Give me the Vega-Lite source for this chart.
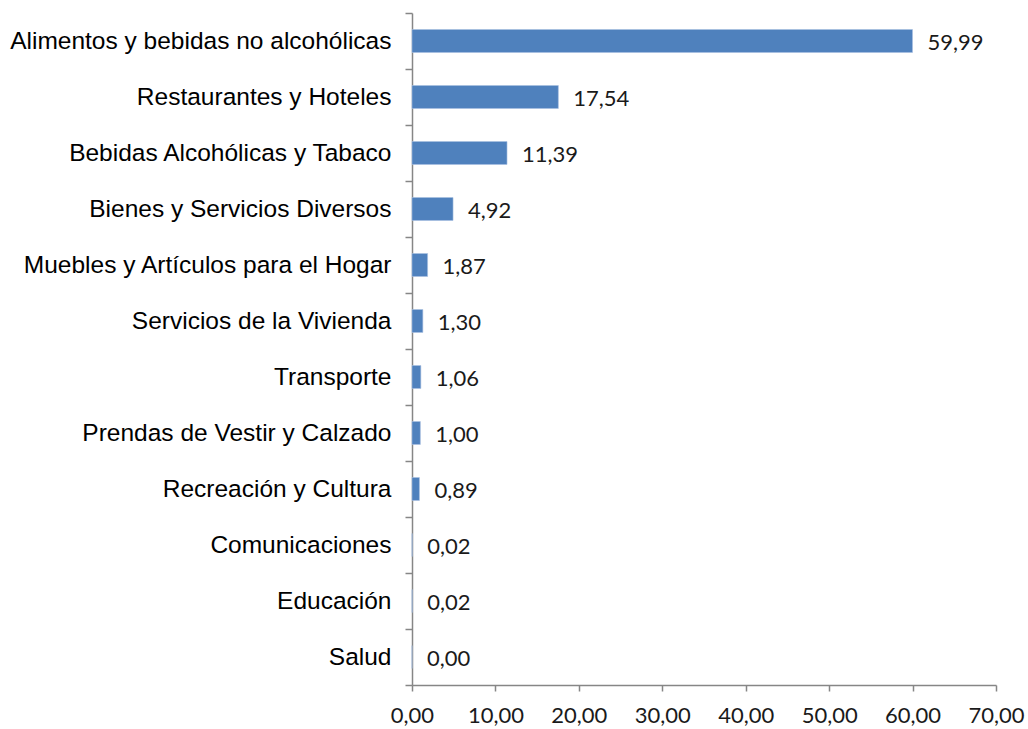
{
  "$schema": "https://vega.github.io/schema/vega-lite/v6.json",
  "width": 584,
  "height": 672,
  "autosize": {"type": "none"},
  "padding": {"left": 412, "top": 13, "right": 32, "bottom": 44},
  "background": "white",
  "data": {"values": [
    {"cat": "Alimentos y bebidas no alcohólicas", "v": 59.99},
    {"cat": "Restaurantes y Hoteles", "v": 17.54},
    {"cat": "Bebidas Alcohólicas y Tabaco", "v": 11.39},
    {"cat": "Bienes y Servicios Diversos", "v": 4.92},
    {"cat": "Muebles y Artículos para el Hogar", "v": 1.87},
    {"cat": "Servicios de la Vivienda", "v": 1.30},
    {"cat": "Transporte", "v": 1.06},
    {"cat": "Prendas de Vestir y Calzado", "v": 1.00},
    {"cat": "Recreación y Cultura", "v": 0.89},
    {"cat": "Comunicaciones", "v": 0.02},
    {"cat": "Educación", "v": 0.02},
    {"cat": "Salud", "v": 0.00}
  ]},
  "transform": [
    {"calculate": "replace(format(datum.v, '.2f'), '.', ',')", "as": "label"}
  ],
  "encoding": {
    "y": {
      "field": "cat", "type": "nominal", "sort": null, "title": null,
      "scale": {"paddingInner": 0, "paddingOuter": 0},
      "axis": {
        "tickBand": "extent", "tickSize": 7, "tickColor": "#868686", "domainColor": "#868686",
        "domainWidth": 1.5, "tickWidth": 1.5,
        "labelFont": "Liberation Sans", "labelFontSize": 24.5, "labelColor": "#000000",
        "labelPadding": 14, "labelLimit": 500
      }
    }
  },
  "layer": [
    {
      "mark": {"type": "bar", "color": "#4f81bd", "stroke": "#a8c0e0", "strokeWidth": 0.6, "height": {"band": 0.41}},
      "encoding": {
        "x": {
          "field": "v", "type": "quantitative", "title": null,
          "scale": {"domain": [0, 70], "nice": false},
          "axis": {
            "values": [0, 10, 20, 30, 40, 50, 60, 70],
            "labelExpr": "replace(format(datum.value, '.2f'), '.', ',')",
            "labelOverlap": false, "labelFlush": false, "labelBound": false,
            "grid": false, "tickSize": 6, "tickColor": "#868686", "domainColor": "#868686",
            "domainWidth": 1.5, "tickWidth": 1.5,
            "labelFont": "Lato", "labelFontSize": 22, "labelColor": "#1a1a1a", "labelPadding": 14
          }
        }
      }
    },
    {
      "mark": {"type": "text", "align": "left", "baseline": "middle", "dx": 15, "dy": 2, "font": "Lato", "fontSize": 22, "color": "#1a1a1a"},
      "encoding": {
        "x": {"field": "v", "type": "quantitative"},
        "text": {"field": "label"}
      }
    }
  ],
  "config": {"view": {"stroke": null}}
}
